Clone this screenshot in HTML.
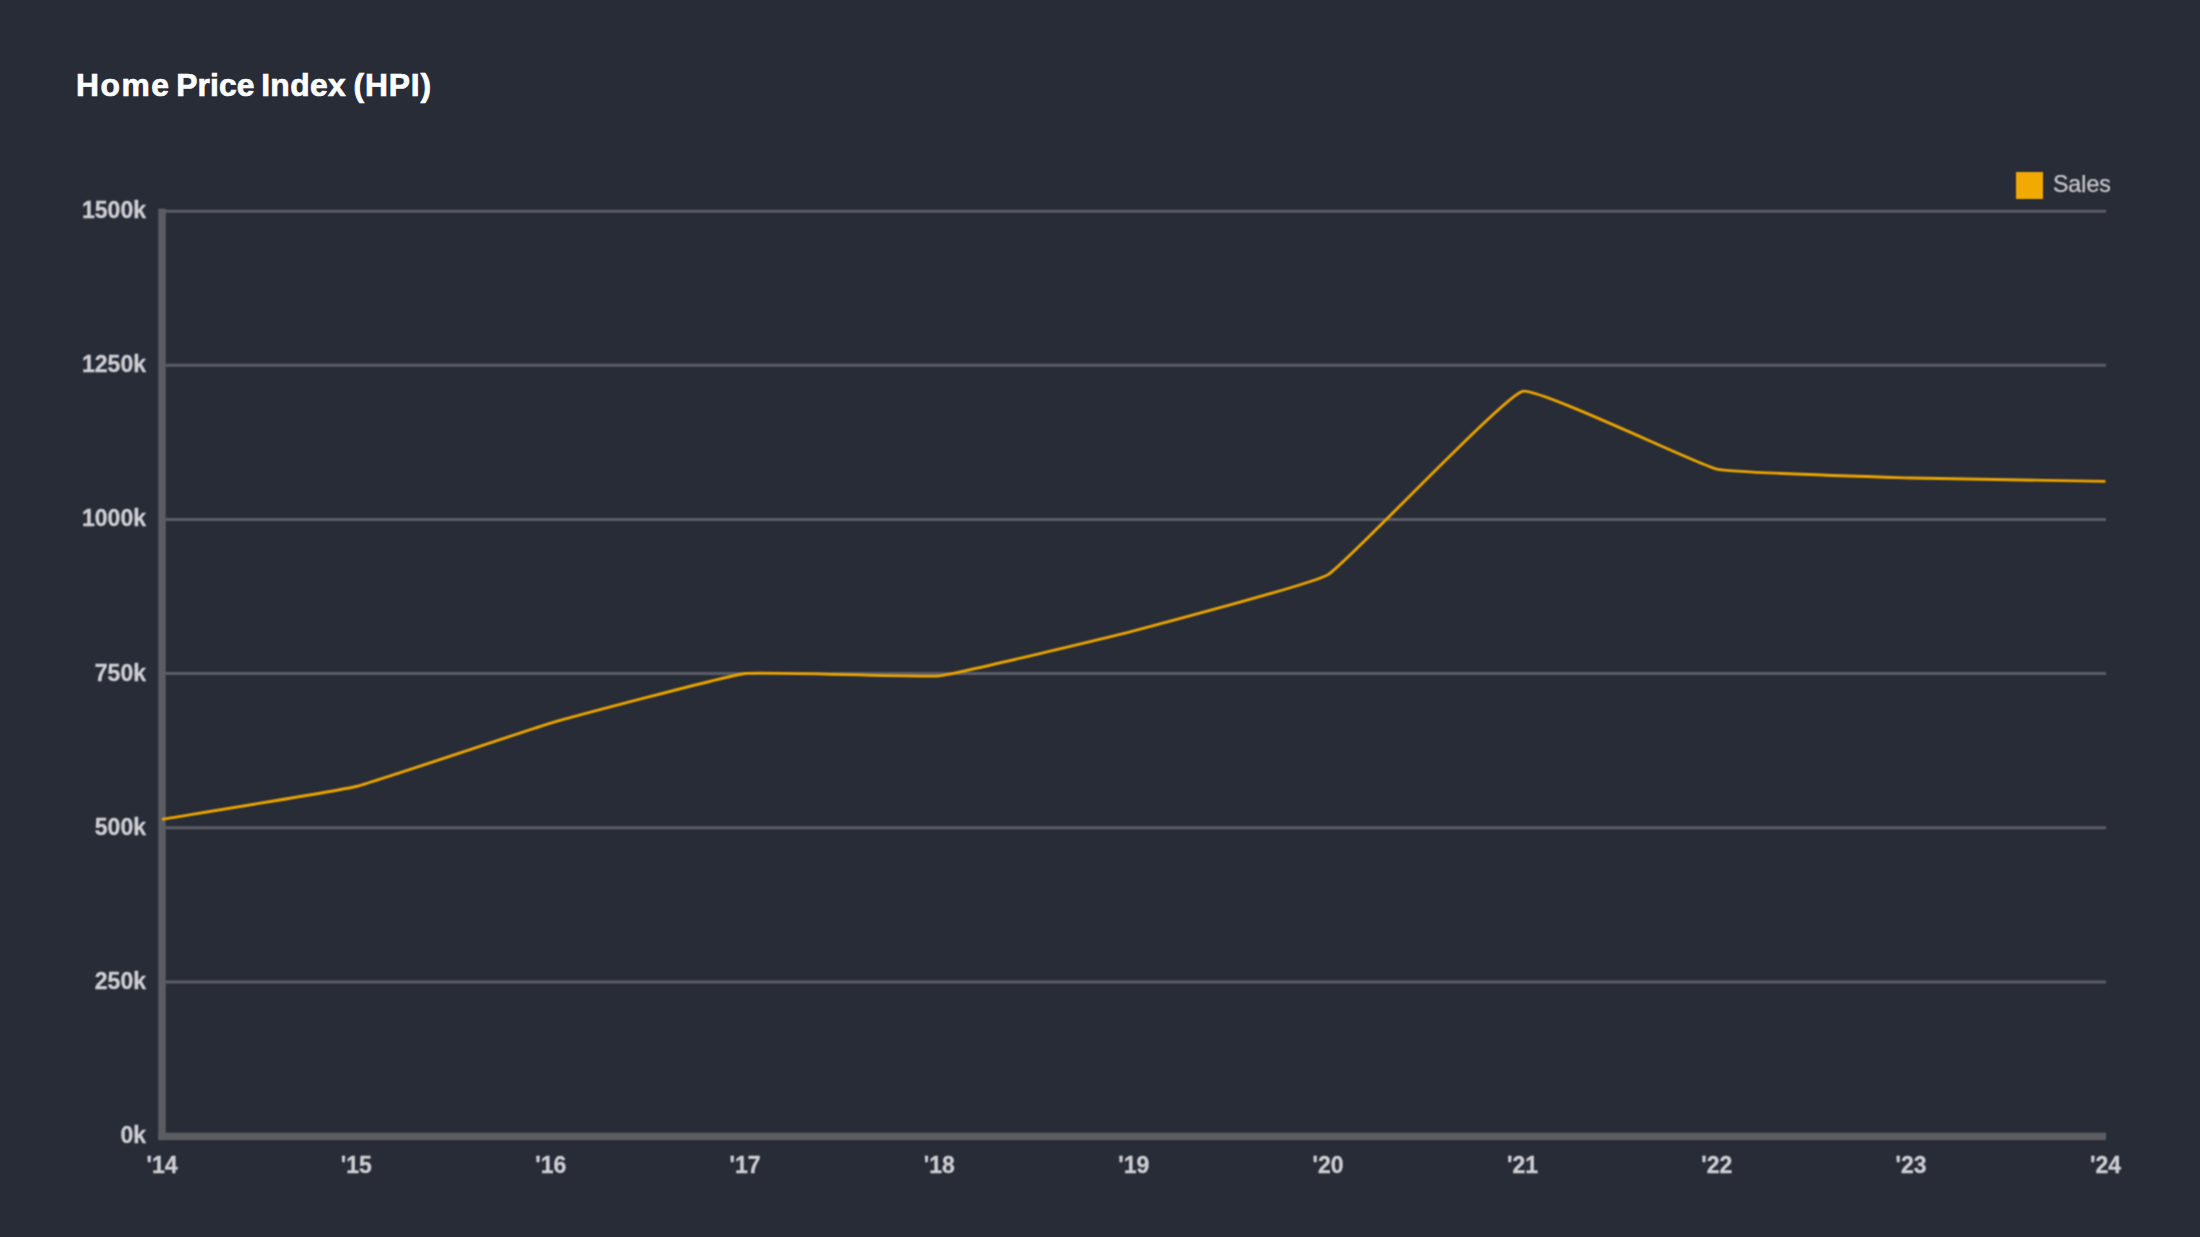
<!DOCTYPE html>
<html lang="en">
<head>
<meta charset="utf-8">
<title>Home Price Index (HPI)</title>
<style>
html,body{margin:0;padding:0;}
body{width:2200px;height:1237px;background:#282c37;overflow:hidden;position:relative;font-family:"Liberation Sans",sans-serif;}
.wrap{position:absolute;left:0;top:0;width:2200px;height:1237px;}
.soft{position:absolute;left:0;top:0;width:2200px;height:1237px;filter:url(#soft);}
.title{position:absolute;left:0;top:65.5px;margin:0;height:38px;width:600px;font-size:31.8px;line-height:38px;font-weight:bold;color:#ffffff;white-space:nowrap;-webkit-text-stroke:0.7px #ffffff;}
.title span{position:absolute;top:0;}
.chart{position:absolute;left:0;top:0;}
.yl{position:absolute;right:2054px;height:0;line-height:0;font-size:23px;font-weight:bold;color:#cdced3;white-space:nowrap;-webkit-text-stroke:0.3px #cdced3;}
.xl{position:absolute;top:1164.8px;height:0;line-height:0;width:0;font-size:23px;font-weight:bold;color:#cdced3;white-space:nowrap;display:flex;justify-content:center;-webkit-text-stroke:0.3px #cdced3;}
.legend{position:absolute;left:2016px;top:172px;height:27px;display:flex;align-items:center;}
.legend .sw{width:26.9px;height:26.8px;background:#f2a900;display:block;}
.legend .lt{margin-left:10px;font-size:23.2px;color:#c9c9cd;line-height:27px;position:relative;top:-1.5px;-webkit-text-stroke:0.25px #c9c9cd;}
</style>
</head>
<body>
<svg width="0" height="0" style="position:absolute"><defs><filter id="soft" x="0" y="0" width="100%" height="100%" color-interpolation-filters="sRGB"><feConvolveMatrix order="3" kernelMatrix="0.0625 0.1250 0.0625 0.1250 0.2500 0.1250 0.0625 0.1250 0.0625" edgeMode="duplicate"/></filter></defs></svg>
<div class="wrap">
<h1 class="title"><span style="left:75.9px;letter-spacing:1.6px">Home </span><span style="left:176.2px;letter-spacing:0.1px">Price </span><span style="left:261.2px;letter-spacing:0.35px">Index </span><span style="left:353.5px;letter-spacing:0.85px">(HPI)</span></h1>
<div class="soft">
<svg class="chart" width="2200" height="1237" viewBox="0 0 2200 1237">
<line x1="162.00" y1="211.15" x2="2106.00" y2="211.15" stroke="#5a5d67" stroke-width="3.00"/>
<line x1="162.00" y1="365.30" x2="2106.00" y2="365.30" stroke="#5a5d67" stroke-width="3.00"/>
<line x1="162.00" y1="519.45" x2="2106.00" y2="519.45" stroke="#5a5d67" stroke-width="3.00"/>
<line x1="162.00" y1="673.60" x2="2106.00" y2="673.60" stroke="#5a5d67" stroke-width="3.00"/>
<line x1="162.00" y1="827.75" x2="2106.00" y2="827.75" stroke="#5a5d67" stroke-width="3.00"/>
<line x1="162.00" y1="981.90" x2="2106.00" y2="981.90" stroke="#5a5d67" stroke-width="3.00"/>
<rect x="158.28" y="208.60" width="7.45" height="931.49" fill="#5c5d62"/>
<rect x="158.28" y="1132.64" width="1947.72" height="7.45" fill="#5c5d62"/>
<path d="M162.00 819.30 C179.49 816.35 339.18 790.75 356.35 786.50 C374.16 782.09 533.04 728.23 550.70 723.10 C568.03 718.06 727.28 675.66 745.05 673.50 C762.27 671.40 922.14 677.70 939.40 675.80 C957.12 673.85 1116.38 635.32 1133.75 630.80 C1151.36 626.21 1313.02 583.89 1328.10 574.60 C1348.01 562.33 1502.84 396.62 1522.45 391.30 C1537.82 387.13 1698.67 465.06 1716.80 469.10 C1733.65 472.86 1893.65 477.45 1911.15 478.00 C1928.63 478.55 2088.01 481.09 2105.50 481.40" fill="none" stroke="#e9a400" stroke-width="2.85" stroke-linejoin="round"/>
</svg>
<div class="legend"><span class="sw"></span><span class="lt">Sales</span></div>
<div class="yl" style="top:210.15px">1500k</div>
<div class="yl" style="top:364.30px">1250k</div>
<div class="yl" style="top:518.45px">1000k</div>
<div class="yl" style="top:672.60px">750k</div>
<div class="yl" style="top:826.75px">500k</div>
<div class="yl" style="top:980.90px">250k</div>
<div class="yl" style="top:1135.27px">0k</div>
<div class="xl" style="left:162.00px">'14</div>
<div class="xl" style="left:356.35px">'15</div>
<div class="xl" style="left:550.70px">'16</div>
<div class="xl" style="left:745.05px">'17</div>
<div class="xl" style="left:939.40px">'18</div>
<div class="xl" style="left:1133.75px">'19</div>
<div class="xl" style="left:1328.10px">'20</div>
<div class="xl" style="left:1522.45px">'21</div>
<div class="xl" style="left:1716.80px">'22</div>
<div class="xl" style="left:1911.15px">'23</div>
<div class="xl" style="left:2105.50px">'24</div>
</div>
</div>
</body>
</html>
